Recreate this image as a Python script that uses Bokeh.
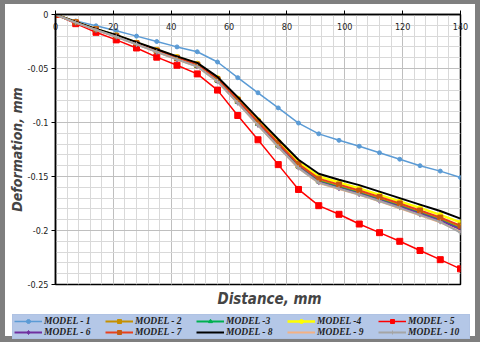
from bokeh.plotting import figure
from bokeh.layouts import column
from bokeh.models import FixedTicker, Legend, LegendItem, Title, Range1d
from bokeh.embed import file_html
from bokeh.resources import INLINE

# ---- data ----
dist = [0, 7, 14, 21, 28, 35, 42, 49, 56, 63, 70, 77, 84, 91, 98, 105, 112, 119, 126, 133, 140]

model_1 = [0, -0.0060, -0.0105, -0.0150, -0.0200, -0.0250, -0.0300, -0.0345, -0.0440, -0.0585, -0.0725,
           -0.0865, -0.1005, -0.1105, -0.1165, -0.1220, -0.1280, -0.1340, -0.1400, -0.1450, -0.1510]
model_2 = [0, -0.0073, -0.0139, -0.0200, -0.0268, -0.0337, -0.0405, -0.0470, -0.0605, -0.0800, -0.1005,
           -0.1205, -0.1400, -0.1535, -0.1590, -0.1645, -0.1705, -0.1765, -0.1830, -0.1895, -0.1970]
model_3 = [0, -0.0074, -0.0140, -0.0203, -0.0272, -0.0341, -0.0410, -0.0475, -0.0612, -0.0808, -0.1013,
           -0.1213, -0.1408, -0.1545, -0.1600, -0.1655, -0.1715, -0.1775, -0.1840, -0.1905, -0.1985]
model_4 = [0, -0.0070, -0.0135, -0.0193, -0.0260, -0.0327, -0.0393, -0.0455, -0.0588, -0.0778, -0.0978,
           -0.1175, -0.1368, -0.1500, -0.1555, -0.1610, -0.1670, -0.1730, -0.1790, -0.1855, -0.1925]
model_5 = [0, -0.0085, -0.0165, -0.0235, -0.0310, -0.0395, -0.0470, -0.0550, -0.0700, -0.0935, -0.1160,
           -0.1390, -0.1620, -0.1770, -0.1850, -0.1940, -0.2020, -0.2100, -0.2185, -0.2270, -0.2355]
model_6 = [0, -0.0074, -0.0141, -0.0204, -0.0273, -0.0343, -0.0412, -0.0477, -0.0615, -0.0812, -0.1017,
           -0.1218, -0.1413, -0.1550, -0.1605, -0.1660, -0.1720, -0.1780, -0.1845, -0.1910, -0.1990]
model_7 = [0, -0.0072, -0.0137, -0.0197, -0.0265, -0.0333, -0.0400, -0.0463, -0.0598, -0.0790, -0.0993,
           -0.1190, -0.1385, -0.1520, -0.1575, -0.1630, -0.1690, -0.1750, -0.1815, -0.1880, -0.1955]
model_8 = [0, -0.0070, -0.0133, -0.0190, -0.0256, -0.0322, -0.0388, -0.0448, -0.0578, -0.0765, -0.0962,
           -0.1155, -0.1345, -0.1475, -0.1530, -0.1580, -0.1640, -0.1700, -0.1760, -0.1820, -0.1890]
model_9 = [0, -0.0075, -0.0143, -0.0207, -0.0277, -0.0347, -0.0417, -0.0483, -0.0622, -0.0820, -0.1026,
           -0.1228, -0.1423, -0.1560, -0.1615, -0.1670, -0.1730, -0.1795, -0.1860, -0.1925, -0.2010]
model_10 = [0, -0.0075, -0.0142, -0.0206, -0.0276, -0.0346, -0.0416, -0.0482, -0.0620, -0.0818, -0.1024,
            -0.1225, -0.1420, -0.1557, -0.1612, -0.1667, -0.1727, -0.1790, -0.1855, -0.1920, -0.2020]

labels = ["MODEL - 1", "MODEL - 2", "MODEL -3", "MODEL -4", "MODEL - 5",
          "MODEL - 6", "MODEL - 7", "MODEL - 8", "MODEL - 9", "MODEL - 10"]

x_ticks = [0, 20, 40, 60, 80, 100, 120, 140]
x_tick_labels = ["0", "20", "40", "60", "80", "100", "120", "140"]
y_ticks = [0, -0.05, -0.1, -0.15, -0.2, -0.25]
y_tick_labels = ["0", "-0.05", "-0.1", "-0.15", "-0.2", "-0.25"]

# ---- styles ----
series = [model_1, model_2, model_3, model_4, model_5, model_6, model_7, model_8, model_9, model_10]
line_colors = ["#5b9bd5", "#c59000", "#00b050", "#ffff00", "#ff0000",
               "#7030a0", "#e8401c", "#000000", "#f4b183", "#a5a5a5"]
marker_colors = ["#5b9bd5", "#c59000", "#00b050", "#ffff00", "#ff0000",
                 "#7030a0", "#c55a11", None, None, "#a5a5a5"]
markers = ["circle", "square", "triangle", "circle", "square",
           "diamond", "square", None, None, "cross"]
msizes = [4, 5, 5, 5, 6, 6, 5, 0, 0, 5]
lwidths = [1.5, 2, 2, 2.5, 1.5, 2, 2, 2, 2, 2]

narrow = "'Liberation Sans Narrow', 'DejaVu Sans Condensed', 'Roboto', sans-serif"
bold_font = "'DejaVu Sans Condensed', 'Liberation Sans Narrow', sans-serif"
frame_grey = "#7f7f7f"

# ---- main chart ----
p = figure(width=480, height=312, output_backend="svg", toolbar_location=None,
           x_range=Range1d(0, 140), y_range=Range1d(-0.25, 0),
           x_axis_location="above",
           min_border_left=50, min_border_right=25, min_border_top=10, min_border_bottom=32)
p.styles = {"border-style": "solid", "border-color": frame_grey,
            "border-width": "4px 5px 0px 5px", "box-sizing": "border-box"}
p.background_fill_color = "white"
p.border_fill_color = "white"
p.outline_line_color = "black"
p.outline_line_width = 1.5

p.xaxis.ticker = FixedTicker(ticks=x_ticks, minor_ticks=[v for v in range(0, 141, 4)])
p.yaxis.ticker = FixedTicker(ticks=y_ticks, minor_ticks=[-k / 100 for k in range(0, 26)])
p.xaxis.major_label_overrides = dict(zip(x_ticks, x_tick_labels))
p.yaxis.major_label_overrides = dict(zip(y_ticks, y_tick_labels))

for ax in (p.xaxis[0], p.yaxis[0]):
    ax.axis_line_color = "black"
    ax.axis_line_width = 1.5
    ax.major_tick_line_color = "black"
    ax.major_tick_out = 4
    ax.major_tick_in = 0
    ax.minor_tick_line_color = None
    ax.major_label_text_font = narrow
    ax.major_label_text_font_size = "9px"
    ax.major_label_text_color = "#222222"

p.xaxis.major_label_standoff = -19
p.yaxis.major_label_standoff = 3
p.yaxis.axis_label = "Deformation, mm"
p.yaxis.axis_label_text_font = bold_font
p.yaxis.axis_label_text_font_style = "bold italic"
p.yaxis.axis_label_text_font_size = "14px"
p.yaxis.axis_label_standoff = 0

p.xgrid.grid_line_color = "#bfbfbf"
p.ygrid.grid_line_color = "#bfbfbf"
p.xgrid.minor_grid_line_color = "#d9d9d9"
p.ygrid.minor_grid_line_color = "#d9d9d9"

for i, ys in enumerate(series):
    p.line(dist, ys, line_color=line_colors[i], line_width=lwidths[i])
    if markers[i]:
        p.scatter(dist, ys, marker=markers[i], size=msizes[i],
                  fill_color=marker_colors[i], line_color=marker_colors[i])

title = Title(text="Distance, mm", align="left", text_font=bold_font,
              text_font_style="bold italic", text_font_size="15px", offset=162, standoff=6)
p.add_layout(title, "below")

# ---- legend strip (same series, drawn outside its visible range) ----
lg = figure(width=480, height=30, output_backend="svg", toolbar_location=None,
            x_range=Range1d(1000, 1001), y_range=Range1d(1000, 1001),
            x_axis_location=None, y_axis_location=None,
            min_border_left=0, min_border_right=0, min_border_top=0, min_border_bottom=0)
lg.styles = {"border-style": "solid", "border-color": frame_grey,
             "border-width": "0px 5px 6px 5px", "box-sizing": "border-box"}
lg.grid.visible = False
lg.outline_line_color = None
lg.background_fill_color = "white"
lg.border_fill_color = "white"

legend_x = 7
if "frame_align" in lg.properties():
    lg.frame_align = False
    p.frame_align = False
else:
    legend_x = 7 - 50

items = []
for i, ys in enumerate(series):
    rs = [lg.line(dist, ys, line_color=line_colors[i], line_width=lwidths[i])]
    if markers[i]:
        rs.append(lg.scatter(dist, ys, marker=markers[i], size=msizes[i],
                             fill_color=marker_colors[i], line_color=marker_colors[i]))
    items.append(LegendItem(label=labels[i], renderers=rs))

legend = Legend(items=items, orientation="horizontal", ncols=5,
                location=(legend_x, 3),
                background_fill_color="#b4c7e7", background_fill_alpha=1,
                border_line_color="#a9bde0", border_line_width=1,
                label_text_font="'Liberation Serif', serif", label_text_font_style="bold italic",
                label_text_font_size="9.5px", label_text_color="#1f1f1f",
                glyph_width=28, glyph_height=10, label_height=10, label_width=60,
                label_standoff=2, spacing=1, padding=1, margin=0)
lg.add_layout(legend, "center")

layout = column(p, lg, spacing=0)
open("out.html", "w").write(file_html(layout, INLINE))
